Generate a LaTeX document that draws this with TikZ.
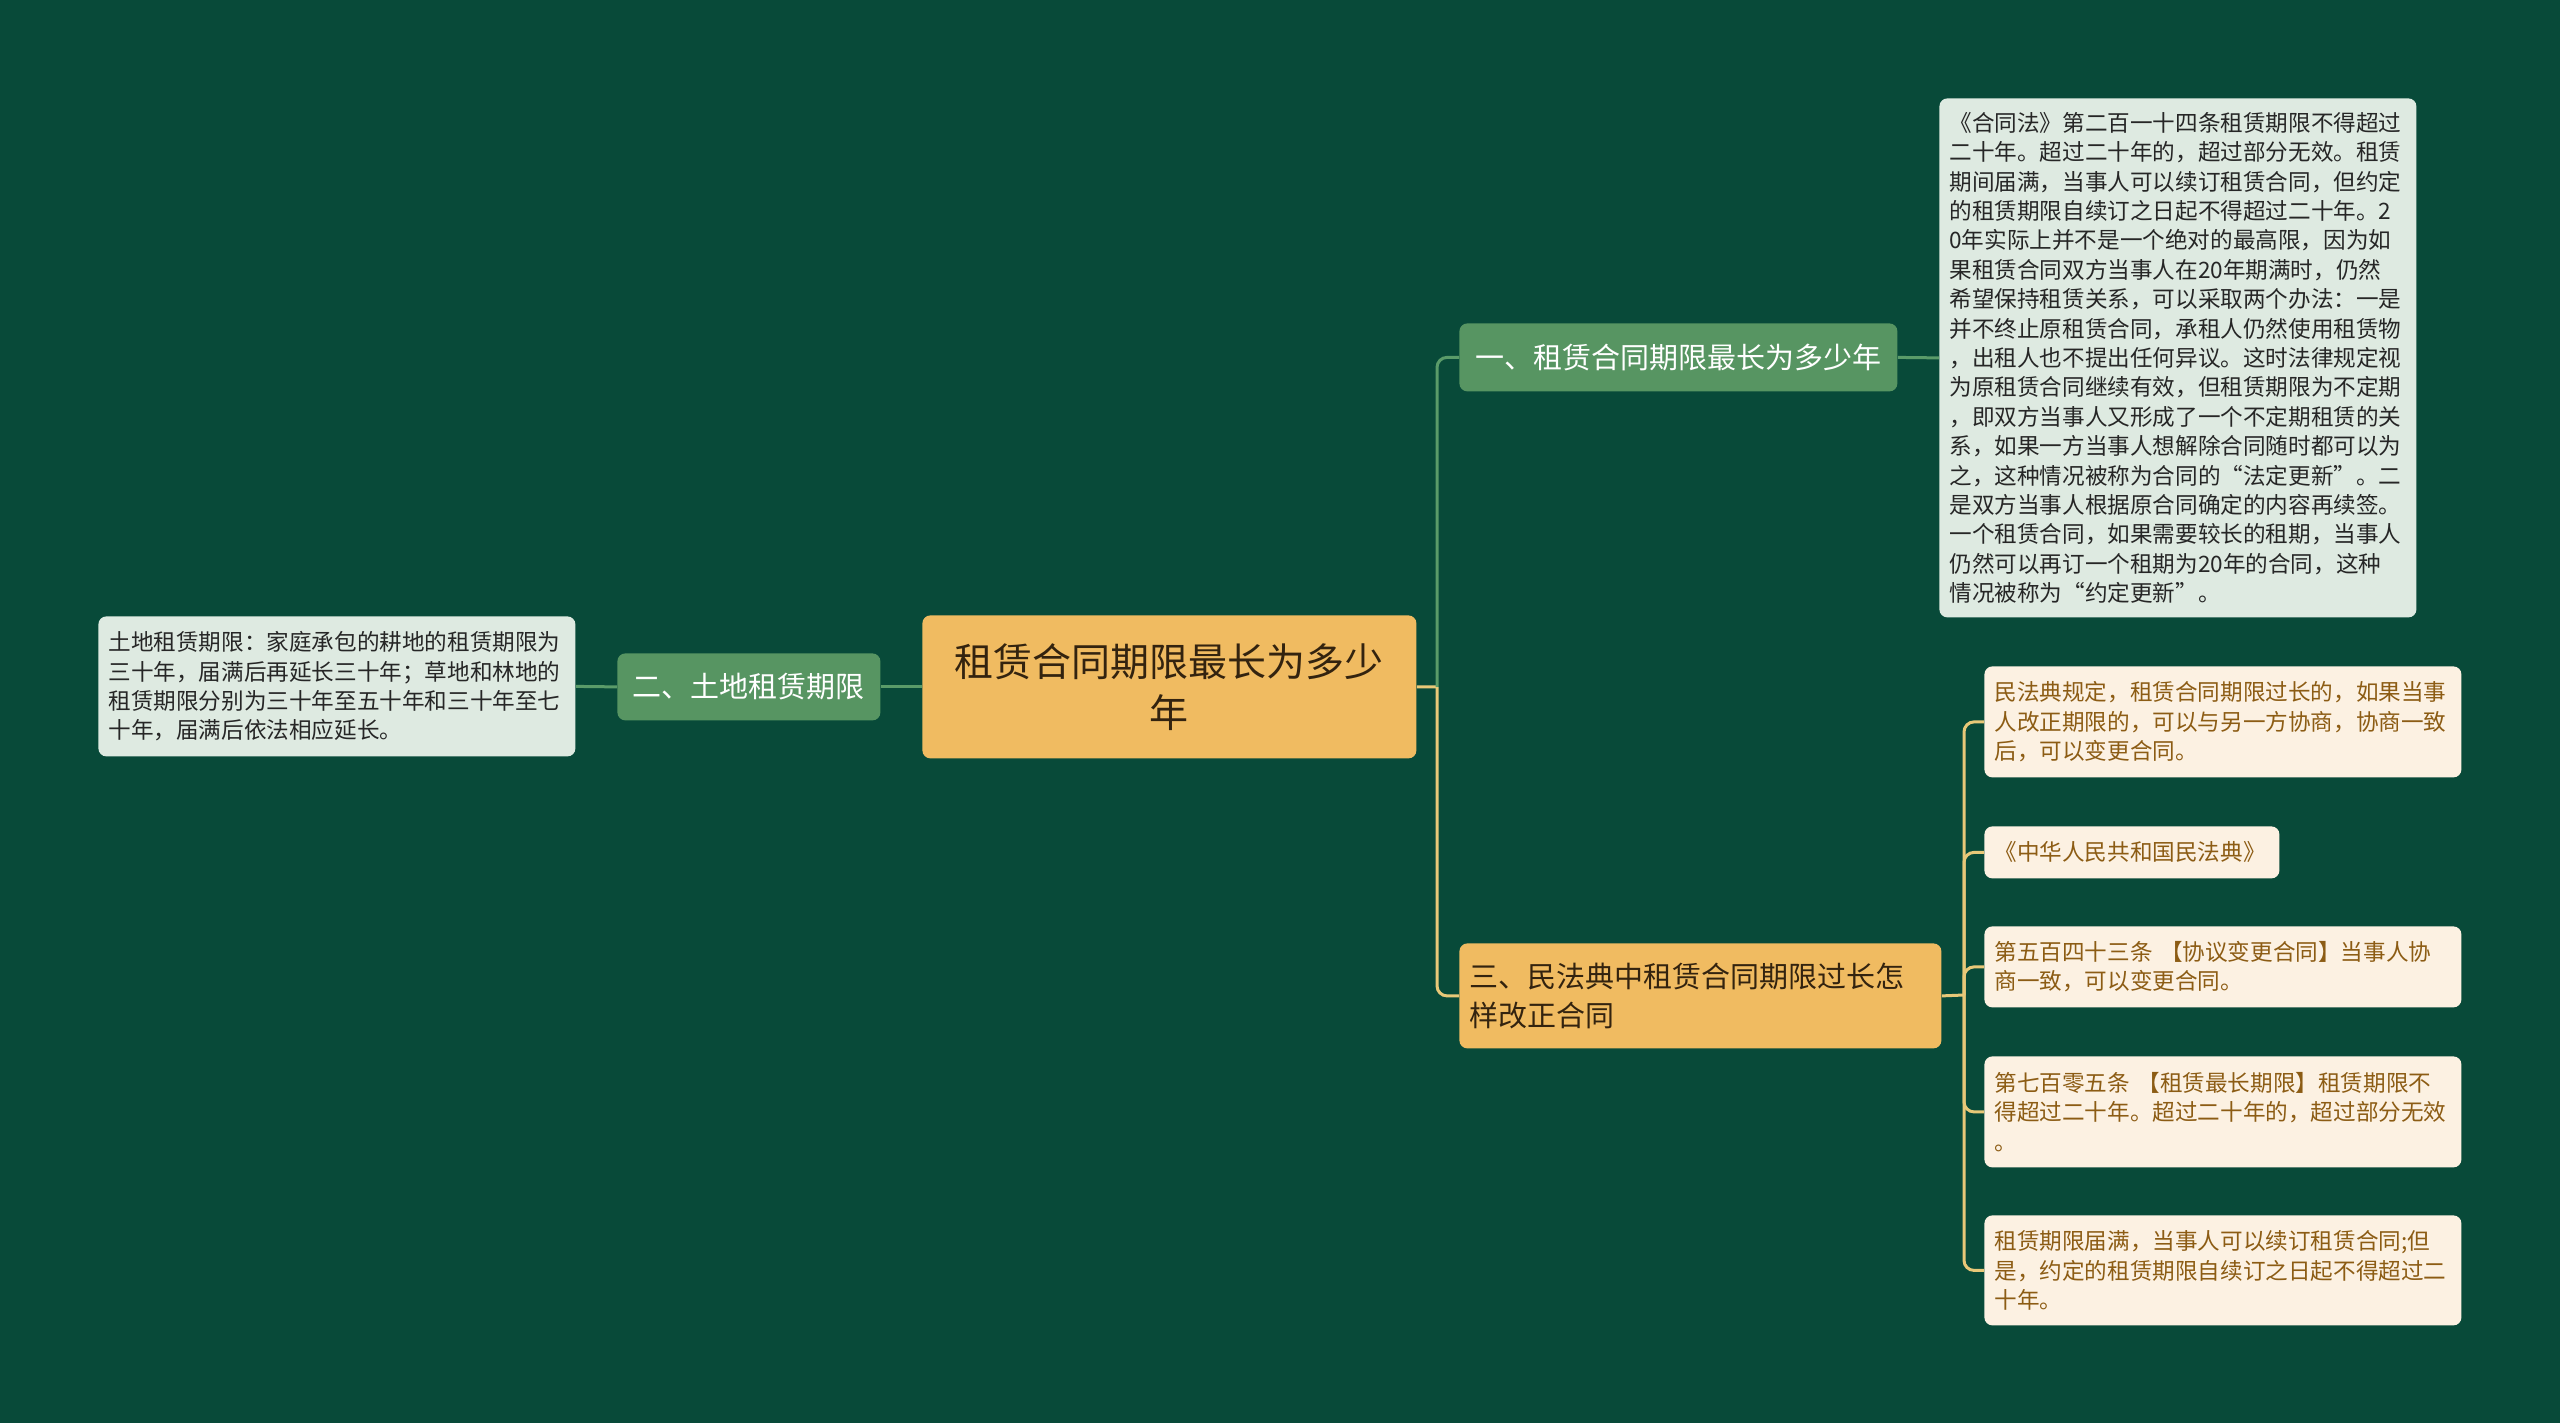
\documentclass[tikz,border=0pt]{standalone}
\usepackage{fontspec}
\setmainfont{Noto Sans CJK SC}
\definecolor{bgc}{HTML}{084A39}
\definecolor{greenN}{HTML}{579562}
\definecolor{greenL}{HTML}{5A9B69}
\definecolor{orangeN}{HTML}{F0BB61}
\definecolor{yellowL}{HTML}{E8C878}
\definecolor{leafgrey}{HTML}{DEEAE1}
\definecolor{cream}{HTML}{FCF1E2}
\definecolor{brownT}{HTML}{8C5C14}
\definecolor{rootT}{HTML}{33230F}
\begin{document}
\begin{tikzpicture}[x=0.5pt,y=-0.5pt,
  box/.style={rounded corners=4pt, inner xsep=5pt, inner ysep=0pt, anchor=north west},
  rootbox/.style={box, fill=orangeN, text=rootT, align=center, font=\fontsize{19.5}{25.3}\selectfont},
  maing/.style={box, fill=greenN, text=white, align=center, font=\fontsize{14.5}{19.5}\selectfont},
  maino/.style={box, fill=orangeN, text=rootT, align=left, font=\fontsize{14.5}{19.5}\selectfont},
  leafg/.style={box, fill=leafgrey, text=black!85, align=left, font=\fontsize{11.3}{14.7}\selectfont},
  leafc/.style={box, fill=cream, text=brownT, align=left, font=\fontsize{11.3}{14.7}\selectfont},
  gline/.style={draw=greenL, line width=1.5pt, rounded corners=5pt},
  yline/.style={draw=yellowL, line width=1.5pt, rounded corners=5pt}]
\fill[bgc] (0,0) rectangle (2560,1423);
\useasboundingbox (0,0) rectangle (2560,1423);

% root
\node[rootbox, minimum width=247pt, minimum height=71.5pt, text width=237pt] (root) at (922,615)
  {租赁合同期限最长为多少\\年};
% branch two (left)
\node[maing, minimum width=131.5pt, minimum height=33.5pt] (n2) at (617,653) {二、土地租赁期限};
\node[leafg, minimum width=238.5pt, minimum height=70pt, text width=228.5pt] (lleaf) at (98,616)
  {土地租赁期限：家庭承包的耕地的租赁期限为\\三十年，届满后再延长三十年；草地和林地的\\租赁期限分别为三十年至五十年和三十年至七\\十年，届满后依法相应延长。};
% branch one
\node[maing, minimum width=219pt, minimum height=34pt] (n1) at (1459,323) {一、租赁合同期限最长为多少年};
\node[leafg, minimum width=238.5pt, minimum height=259.5pt, text width=228.5pt] (leaf1) at (1939,98)
  {《合同法》第二百一十四条租赁期限不得超过\\二十年。超过二十年的，超过部分无效。租赁\\期间届满，当事人可以续订租赁合同，但约定\\的租赁期限自续订之日起不得超过二十年。2\\0年实际上并不是一个绝对的最高限，因为如\\果租赁合同双方当事人在20年期满时，仍然\\希望保持租赁关系，可以采取两个办法：一是\\并不终止原租赁合同，承租人仍然使用租赁物\\，出租人也不提出任何异议。这时法律规定视\\为原租赁合同继续有效，但租赁期限为不定期\\，即双方当事人又形成了一个不定期租赁的关\\系，如果一方当事人想解除合同随时都可以为\\之，这种情况被称为合同的“法定更新”。二\\是双方当事人根据原合同确定的内容再续签。\\一个租赁合同，如果需要较长的租期，当事人\\仍然可以再订一个租期为20年的合同，这种\\情况被称为“约定更新”。};
% branch three
\node[maino, minimum width=241pt, minimum height=52.5pt, text width=231pt] (n3) at (1459,943)
  {三、民法典中租赁合同期限过长怎\\样改正合同};
\node[leafc, minimum width=238.5pt, minimum height=55.5pt, text width=228.5pt] (L1) at (1984,666)
  {民法典规定，租赁合同期限过长的，如果当事\\人改正期限的，可以与另一方协商，协商一致\\后，可以变更合同。};
\node[leafc, minimum width=147.5pt, minimum height=26pt, text width=137.5pt] (L2) at (1984,826)
  {《中华人民共和国民法典》};
\node[leafc, minimum width=238.5pt, minimum height=40.5pt, text width=228.5pt] (L3) at (1984,926)
  {第五百四十三条 【协议变更合同】当事人协\\商一致，可以变更合同。};
\node[leafc, minimum width=238.5pt, minimum height=55.5pt, text width=228.5pt] (L4) at (1984,1056)
  {第七百零五条 【租赁最长期限】租赁期限不\\得超过二十年。超过二十年的，超过部分无效\\。};
\node[leafc, minimum width=238.5pt, minimum height=55pt, text width=228.5pt] (L5) at (1984,1215)
  {租赁期限届满，当事人可以续订租赁合同;但\\是，约定的租赁期限自续订之日起不得超过二\\十年。};

% connectors
\coordinate (j1) at (1437,687);
\coordinate (j3) at (1964,995);
\draw[gline] (root.west) -- (n2.east);
\draw[gline] (n2.west) -- (lleaf.east);
\draw[yline] (root.east) -- (j1);
\draw[gline] (j1) |- (n1.west);
\draw[yline] (j1) |- (n3.west);
\draw[gline] (n1.east) -- (leaf1.west);
\draw[yline] (n3.east) -- (j3);
\foreach \k in {L1,L2,L3,L4,L5} { \draw[yline] (j3) |- (\k.west); }
\end{tikzpicture}
\end{document}
